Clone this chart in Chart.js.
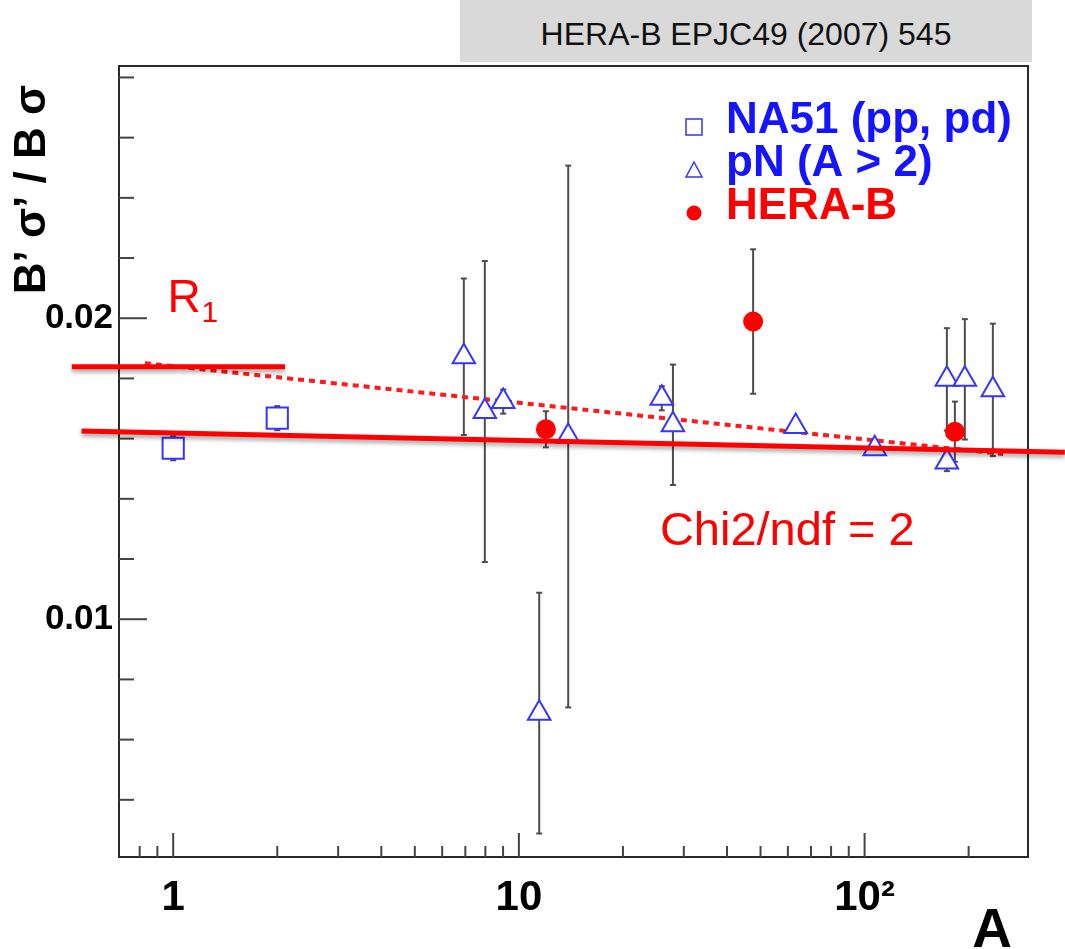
<!DOCTYPE html>
<html lang="en">
<head>
<meta charset="UTF-8">
<title>B'σ'/Bσ versus A</title>
<script src="https://cdn.jsdelivr.net/npm/chart.js"></script>
<style>
    body { margin: 0; background: #fff; }
    .wrap { position: relative; width: 1065px; height: 949px; }
    .ref-box {
        position: absolute; left: 460px; top: 0; width: 572px; height: 62px;
        background: #d9d9d9; color: #111; text-align: center; white-space: nowrap;
        font: 32px "Liberation Sans", Arial, sans-serif; line-height: 68px;
    }
</style>
</head>
<body>
<div class="wrap">
    <canvas id="chart"></canvas>
    <div class="ref-box">HERA-B EPJC49 (2007) 545</div>
</div>
<script>
const FONT = '"Liberation Sans", Arial, sans-serif';
const RED = '#ff0000';
const BLUE = '#3535ff';

// NA51 (pp, pd)
const na51A = [1, 2];
const na51R = [0.01568, 0.01668];
const na51Err = [0.0004, 0.0004];

// pN (A > 2)
const pnA = [6.93, 7.97, 9.01, 11.45, 13.89, 25.9, 27.9, 63.2, 107, 173, 173, 195, 235];
const pnR = [0.01872, 0.0169, 0.01723, 0.00688, 0.01607, 0.01734, 0.01646, 0.0164, 0.01566, 0.01797, 0.01522, 0.01797, 0.01762];
const pnErr = [0.0026, 0.005, 0.0004, 0.004, 0.009, 0.0004, 0.002, 0.0002, 0.0002, 0.0017, 0.0003, 0.002, 0.0022];

// HERA-B
const heraA = [11.97, 47.6, 182.5];
const heraR = [0.01631, 0.01989, 0.01623];
const heraErr = [0.0006, 0.0024, 0.001];

// lines: dotted one from the figure, solid ones drawn over it
const dotA = [0.828, 251.8];
const dotR = [0.018505, 0.01549];
const fitA = [0.543, 379.7];
const fitR = [0.016256, 0.01555];
const r1A = [0.509, 2.106];
const r1R = [0.01839, 0.01839];

// axes
const xTicks = [0.8, 0.9, 1, 2, 3, 4, 5, 6, 7, 8, 9, 10, 20, 30, 40, 50, 60, 70, 80, 90, 100, 200];
const xMajor = [1, 10, 100];
const xLabels = ['1', '10', '10²'];
const yTicks = [0.004, 0.006, 0.008, 0.01, 0.012, 0.014, 0.016, 0.018, 0.02, 0.022, 0.024, 0.026, 0.028];
const yMajor = [0.01, 0.02];
const yLabels = ['0.01', '0.02'];

// text written on the plot, anchored in data units
const r1Note = { a: 0.962, r: 0.020219 };
const chiNote = { a: 25.58, r: 0.012468, text: 'Chi2/ndf = 2' };

const pts = (xs, ys) => xs.map((x, i) => ({ x: x, y: ys[i] }));

function line(ctx, x1, y1, x2, y2) {
    ctx.beginPath();
    ctx.moveTo(x1, y1);
    ctx.lineTo(x2, y2);
    ctx.stroke();
}

// frame, inward ticks and error bars, under the markers
const axisFrame = {
    id: 'axisFrame',
    beforeDatasetsDraw(chart) {
        const { ctx, chartArea: a, scales: { x, y } } = chart;
        ctx.save();
        ctx.strokeStyle = '#2a2a2a';
        ctx.lineWidth = 2;
        ctx.strokeRect(a.left, a.top, a.right - a.left, a.bottom - a.top);
        ctx.strokeStyle = '#444';
        y.ticks.forEach(t => {
            const py = y.getPixelForValue(t.value);
            line(ctx, a.left, py, a.left + (yMajor.includes(t.value) ? 28 : 15), py);
        });
        x.ticks.forEach(t => {
            const px = x.getPixelForValue(t.value);
            line(ctx, px, a.bottom, px, a.bottom - (xMajor.includes(t.value) ? 24 : 11));
        });
        ctx.strokeStyle = '#4d4d4d';
        chart.data.datasets.forEach(ds => {
            if (!ds.errors) return;
            ds.data.forEach((p, i) => {
                const e = ds.errors[i];
                if (!e) return;
                const px = x.getPixelForValue(p.x);
                const top = y.getPixelForValue(p.y + e);
                const bot = y.getPixelForValue(p.y - e);
                line(ctx, px, top, px, bot);
                line(ctx, px - 3, top, px + 3, top);
                line(ctx, px - 3, bot, px + 3, bot);
            });
        });
        ctx.restore();
    }
};

// soft shadow under the thick red lines
const lineShadow = {
    id: 'lineShadow',
    beforeDatasetDraw(chart, args) {
        if (!chart.data.datasets[args.index].shadow) return;
        const ctx = chart.ctx;
        ctx.save();
        ctx.shadowColor = 'rgba(0,0,0,0.35)';
        ctx.shadowBlur = 4;
        ctx.shadowOffsetY = 3;
    },
    afterDatasetDraw(chart, args) {
        if (chart.data.datasets[args.index].shadow) chart.ctx.restore();
    }
};

// legend, notes and axis titles
const overlay = {
    id: 'overlay',
    afterDraw(chart) {
        const { ctx, chartArea: a, scales: { x, y } } = chart;
        ctx.save();

        // legend
        ctx.font = 'bold 44px ' + FONT;
        ctx.textBaseline = 'alphabetic';
        chart.data.datasets.filter(d => d.inLegend).forEach((d, i) => {
            const base = a.top + 67 + i * 43;
            const mx = a.left + 575, my = base - 6;
            ctx.lineWidth = 1.5;
            ctx.strokeStyle = d.borderColor;
            ctx.fillStyle = d.backgroundColor;
            ctx.beginPath();
            if (d.pointStyle === 'rect') {
                ctx.rect(mx - 8, my - 8, 16, 16);
            } else if (d.pointStyle === 'triangle') {
                ctx.moveTo(mx, my - 8);
                ctx.lineTo(mx + 8, my + 7);
                ctx.lineTo(mx - 8, my + 7);
                ctx.closePath();
            } else {
                ctx.arc(mx, my, 7.5, 0, Math.PI * 2);
            }
            ctx.fill();
            if (d.borderWidth) ctx.stroke();
            ctx.fillStyle = d.textColor;
            ctx.fillText(d.label, a.left + 607, base);
        });

        // R1 and chi2 notes
        ctx.fillStyle = RED;
        const rx = x.getPixelForValue(r1Note.a), ry = y.getPixelForValue(r1Note.r);
        ctx.font = '46px ' + FONT;
        ctx.fillText('R', rx, ry);
        const rw = ctx.measureText('R').width;
        ctx.font = '30px ' + FONT;
        ctx.fillText('1', rx + rw + 1, ry + 10);
        ctx.font = '47px ' + FONT;
        ctx.fillText(chiNote.text, x.getPixelForValue(chiNote.a), y.getPixelForValue(chiNote.r));

        // axis titles
        ctx.fillStyle = '#000';
        ctx.font = 'bold 55px ' + FONT;
        ctx.textAlign = 'right';
        ctx.fillText('A', a.right - 16, 947);
        ctx.translate(45, a.top + 19);
        ctx.rotate(-Math.PI / 2);
        ctx.font = 'bold 44px ' + FONT;
        ctx.fillText('B’ σ’ / B σ', 0, 0);
        ctx.restore();
    }
};

new Chart(document.getElementById('chart'), {
    type: 'scatter',
    data: {
        datasets: [
            {
                label: 'fit', data: pts(fitA, fitR), showLine: true, borderColor: RED,
                borderWidth: 5, pointRadius: 0, clip: false, shadow: true, order: 0
            },
            {
                label: 'R1', data: pts(r1A, r1R), showLine: true, borderColor: RED,
                borderWidth: 5, pointRadius: 0, clip: false, shadow: true, order: 0
            },
            {
                label: 'NA51 (pp, pd)', data: pts(na51A, na51R), errors: na51Err,
                pointStyle: 'rect', pointRadius: 15, borderWidth: 2,
                borderColor: BLUE, backgroundColor: '#fff', textColor: '#1414ff', inLegend: true, order: 1
            },
            {
                label: 'pN (A > 2)', data: pts(pnA, pnR), errors: pnErr,
                pointStyle: 'triangle', pointRadius: 13, borderWidth: 2,
                borderColor: BLUE, backgroundColor: '#fff', textColor: '#1414ff', inLegend: true, order: 1
            },
            {
                label: 'HERA-B', data: pts(heraA, heraR), errors: heraErr,
                pointStyle: 'circle', pointRadius: 10, borderWidth: 0,
                borderColor: RED, backgroundColor: RED, textColor: RED, inLegend: true, order: 1
            },
            {
                label: 'dotted', data: pts(dotA, dotR), showLine: true, borderColor: '#ff1a1a',
                borderWidth: 4, borderDash: [6, 5], pointRadius: 0, order: 2
            }
        ]
    },
    options: {
        responsive: true,
        maintainAspectRatio: false,
        animation: false,
        events: [],
        layout: { padding: { top: 66, right: 37, left: 0, bottom: 0 } },
        plugins: { legend: { display: false }, tooltip: { enabled: false } },
        scales: {
            x: {
                type: 'logarithmic',
                min: 0.697,
                max: 297,
                grid: { display: false, drawTicks: false },
                border: { display: false },
                afterBuildTicks: s => { s.ticks = xTicks.map(v => ({ value: v })); },
                afterFit: s => { s.height = 92; },
                ticks: {
                    autoSkip: false, maxRotation: 0, padding: 16, color: '#000',
                    font: { family: FONT, size: 42, weight: 'bold' },
                    callback: v => { const k = xMajor.indexOf(v); return k < 0 ? '' : xLabels[k]; }
                }
            },
            y: {
                type: 'linear',
                min: 0.0021,
                max: 0.02838,
                grid: { display: false, drawTicks: false },
                border: { display: false },
                afterBuildTicks: s => { s.ticks = yTicks.map(v => ({ value: v })); },
                afterFit: s => { s.width = 119; },
                ticks: {
                    autoSkip: false, padding: 6, color: '#000',
                    font: { family: FONT, size: 35, weight: 'bold' },
                    callback: v => { const k = yMajor.indexOf(v); return k < 0 ? '' : yLabels[k]; }
                }
            }
        }
    },
    plugins: [axisFrame, lineShadow, overlay]
});
</script>
</body>
</html>
